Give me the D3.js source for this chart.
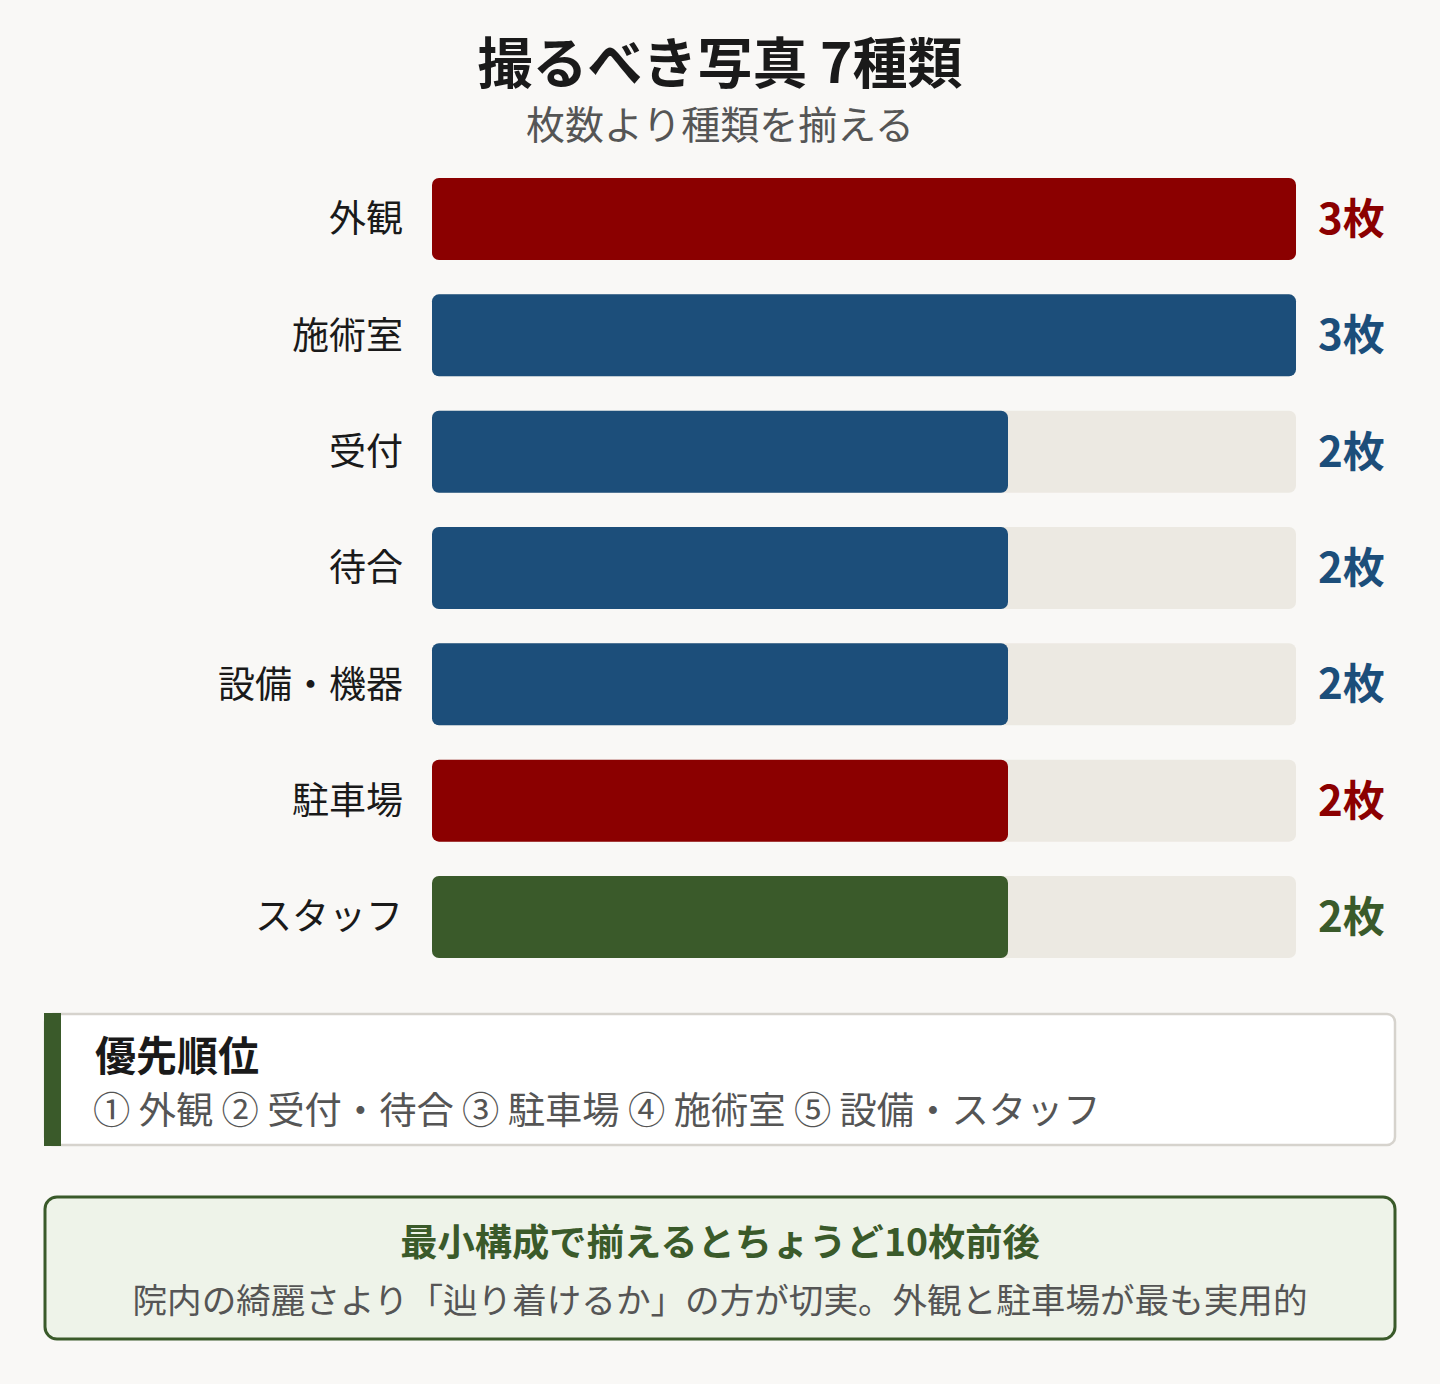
<!DOCTYPE html>
<html><head><meta charset="utf-8">
<script src="https://cdn.jsdelivr.net/npm/d3@7"></script>
<style>
html,body{margin:0;padding:0;background:#f9f8f6;}
svg{display:block;font-family:"Noto Sans CJK JP","Noto Sans",sans-serif;}
</style></head>
<body>
<svg id="chart" width="1440" height="1384"></svg>
<script>
const title = "撮るべき写真 7種類";
const subtitle = "枚数より種類を揃える";
const categories = ["外観","施術室","受付","待合","設備・機器","駐車場","スタッフ"];
const values = [3,3,2,2,2,2,2];
const colorKeys = ["red","blue","blue","blue","blue","red","green"];
const valueLabels = ["3枚","3枚","2枚","2枚","2枚","2枚","2枚"];
const maxValue = 3;
const priorityTitle = "優先順位";
const priorityText = "① 外観 ② 受付・待合 ③ 駐車場 ④ 施術室 ⑤ 設備・スタッフ";
const noteTitle = "最小構成で揃えるとちょうど10枚前後";
const noteText = "院内の綺麗さより「辿り着けるか」の方が切実。外観と駐車場が最も実用的";

const palette = {red:"#8b0000", blue:"#1c4e7a", green:"#3a5a2a"};

const svg = d3.select("#chart");
svg.append("rect").attr("width",1440).attr("height",1384).attr("fill","#f9f8f6");

svg.append("text").attr("x",720).attr("y",83).attr("text-anchor","middle")
  .attr("font-size",55).attr("font-weight",700).attr("fill","#1a1a1a").text(title);
svg.append("text").attr("x",720).attr("y",139).attr("text-anchor","middle")
  .attr("font-size",39).attr("fill","#555").text(subtitle);

const x = d3.scaleLinear().domain([0,maxValue]).range([432,1296]);
const y = d3.scaleBand().domain(categories).range([178,958]).paddingInner(0.295).paddingOuter(0);

const rows = svg.append("g").selectAll("g").data(categories).join("g");
rows.append("rect").attr("x",x(0)).attr("y",d=>y(d)).attr("width",x(maxValue)-x(0))
  .attr("height",y.bandwidth()).attr("rx",7).attr("fill","#ece9e2");
rows.append("rect").attr("x",x(0)).attr("y",d=>y(d)).attr("width",(d,i)=>x(values[i])-x(0))
  .attr("height",y.bandwidth()).attr("rx",7).attr("fill",(d,i)=>palette[colorKeys[i]]);
rows.append("text").attr("x",403).attr("y",d=>y(d)+y.bandwidth()/2).attr("dy","0.36em")
  .attr("text-anchor","end").attr("font-size",37).attr("fill","#1a1a1a").text(d=>d);
rows.append("text").attr("x",1318).attr("y",d=>y(d)+y.bandwidth()/2).attr("dy","0.36em")
  .attr("font-size",42).attr("font-weight",700).attr("fill",(d,i)=>palette[colorKeys[i]])
  .text((d,i)=>valueLabels[i]);

// priority box
const pb = svg.append("g");
pb.append("rect").attr("x",45).attr("y",1014).attr("width",1350).attr("height",131).attr("rx",8)
  .attr("fill","#fff").attr("stroke","#d6d3cd").attr("stroke-width",2.5);
pb.append("rect").attr("x",44).attr("y",1013).attr("width",17).attr("height",133).attr("fill","#3a5a2a");
pb.append("text").attr("x",95).attr("y",1071).attr("font-size",41).attr("font-weight",700)
  .attr("fill","#1a1a1a").text(priorityTitle);
pb.append("text").attr("x",93).attr("y",1124).attr("font-size",37.3).attr("fill","#555").text(priorityText);

// note box
const nb = svg.append("g");
nb.append("rect").attr("x",45).attr("y",1197).attr("width",1350).attr("height",142).attr("rx",12)
  .attr("fill","#eef3e9").attr("stroke","#3a5a2a").attr("stroke-width",3);
nb.append("text").attr("x",720).attr("y",1256).attr("text-anchor","middle").attr("font-size",37.3)
  .attr("font-weight",700).attr("fill","#3a5a2a").text(noteTitle);
nb.append("text").attr("x",720).attr("y",1313).attr("text-anchor","middle").attr("font-size",34.6)
  .attr("fill","#555").text(noteText);
</script>
</body></html>
